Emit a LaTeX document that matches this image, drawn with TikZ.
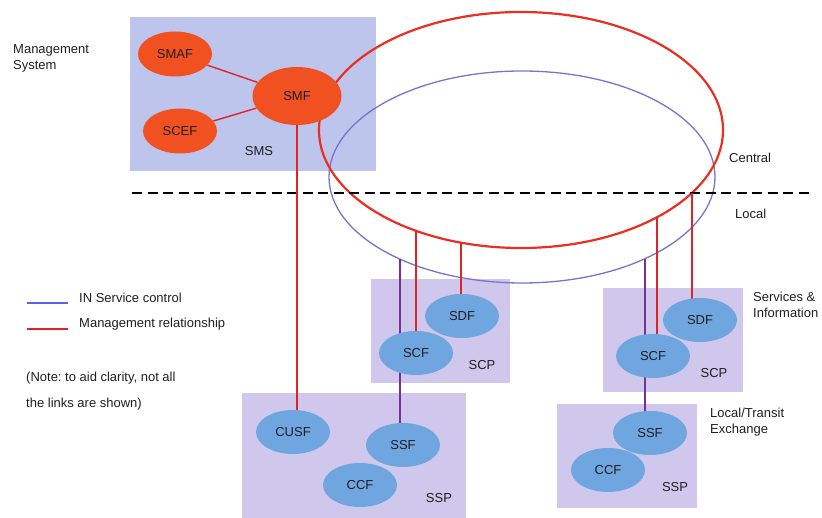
\documentclass[tikz,border=0pt]{standalone}
\usepackage{fontspec}
\setmainfont{Liberation Sans}
\usetikzlibrary{shapes.geometric,calc}
\pgfdeclarelayer{back}
\pgfdeclarelayer{mid}
\pgfsetlayers{back,mid,main}
\frenchspacing

\definecolor{smsfill}{RGB}{189,197,236}
\definecolor{boxfill}{RGB}{208,199,237}
\definecolor{mgmtfill}{RGB}{241,80,32}
\definecolor{infill}{RGB}{112,166,224}
\definecolor{mgmtline}{RGB}{222,36,36}
\definecolor{ringred}{RGB}{234,46,34}
\definecolor{ringblue}{RGB}{118,116,206}
\definecolor{ctrlline}{RGB}{118,48,150}
\definecolor{legblue}{RGB}{96,96,226}

\tikzset{
  every node/.style={font=\fontsize{13}{15}\selectfont, text=black!88},
  mgmtfn/.style={ellipse, fill=mgmtfill, minimum width=74, minimum height=45, inner sep=0},
  infn/.style={ellipse, fill=infill, minimum width=74, minimum height=44, inner sep=0},
  smsbox/.style={fill=smsfill, draw=none},
  platbox/.style={fill=boxfill, draw=none},
  mgmt/.style={draw=mgmtline, line width=1.4},
  ctrl/.style={draw=ctrlline, line width=1.4},
  ring/.style={ellipse, inner sep=0, outer sep=0},
  lbl/.style={anchor=west, inner sep=0},
}

\begin{document}
\begin{tikzpicture}[x=1pt, y=-1pt]
\useasboundingbox (0,0) rectangle (822,518);

% ---- platforms ----
\begin{pgfonlayer}{back}
  \fill[smsbox] (130,17) rectangle (376,171);
  \fill[platbox] (371,279) rectangle (510,383);
  \fill[platbox] (242,393) rectangle (466,518);
  \fill[platbox] (603,288) rectangle (743,392);
  \fill[platbox] (557,404) rectangle (697,508);
\end{pgfonlayer}

% ---- functional entities ----
\node[mgmtfn] (smaf) at (175,54) {SMAF};
\node[mgmtfn] (scef) at (180,131) {SCEF};
\node[mgmtfn, minimum width=89, minimum height=58] (smf) at (297,96) {SMF};

\node[infn] (sdfL) at (462,316) {SDF};
\node[infn] (scfL) at (416,353) {SCF};
\node[infn] (cusf) at (293,432) {CUSF};
\node[infn] (ssfL) at (403,445) {SSF};
\node[infn] (ccfL) at (360,485) {CCF};

\node[infn] (sdfR) at (700,320) {SDF};
\node[infn] (scfR) at (653,356) {SCF};
\node[infn] (ssfR) at (650,433) {SSF};
\node[infn] (ccfR) at (608,470) {CCF};

% ---- platform labels ----
\node (sms) at (259,151) {SMS};
\node (scpL) at (482,365) {SCP};
\node (sspL) at (439,498) {SSP};
\node (scpR) at (714,373) {SCP};
\node (sspR) at (675,487) {SSP};

% ---- side texts ----
\node[lbl] (msys1) at (13,50) {Management};
\node[lbl] (msys2) at (13,66) {System};
\node[lbl] (central) at (729,158) {Central};
\node[lbl] (local) at (735,214) {Local};
\node[lbl] (svc1) at (753,297) {Services \&};
\node[lbl] (svc2) at (753,313) {Information};
\node[lbl] (lte1) at (710,413) {Local/Transit};
\node[lbl] (lte2) at (710,430) {Exchange};

% ---- legend ----
\coordinate (lb1) at (27,303);
\coordinate (lb2) at (68,303);
\coordinate (lr1) at (27,329);
\coordinate (lr2) at (68,329);
\node[lbl] (legctrl) at (79,298) {IN Service control};
\node[lbl] (legmgmt) at (79,324) {Management relationship};
\node[lbl] (note1) at (26,378) {(Note: to aid clarity, not all};
\node[lbl] (note2) at (26,404) {the links are shown)};

\begin{pgfonlayer}{mid}
  % control and management rings
  \node[ring, draw=ringblue, line width=1.3, minimum width=386, minimum height=212] (bluering) at (522,177) {};
  \node[ring, draw=ringred, line width=2.2, minimum width=404, minimum height=236] (redring) at (521,130) {};

  % central / local boundary
  \coordinate (cl1) at (132,193);
  \coordinate (cl2) at (810,193);
  \draw[black, line width=2, dash pattern=on 10 off 5.5] (cl1) -- (cl2);

  % points where the links leave the rings
  \coordinate (rA) at ($(redring.center)+(-105,101)$);
  \coordinate (rB) at ($(redring.center)+(-60,113)$);
  \coordinate (rC) at ($(redring.center)+(136,87)$);
  \coordinate (rD) at ($(redring.center)+(171,63)$);
  \coordinate (bA) at ($(bluering.center)+(-122,82)$);
  \coordinate (bB) at ($(bluering.center)+(123,82)$);

  % management relationships
  \draw[mgmt] (smaf) -- (smf);
  \draw[mgmt] (scef) -- (smf);
  \draw[mgmt] (smf.center) -- (smf.center |- cusf.center);
  \draw[mgmt] (rA) -- (rA |- scfL.center);
  \draw[mgmt] (rB) -- (rB |- sdfL.center);
  \draw[mgmt] (rC) -- (rC |- scfR.center);
  \draw[mgmt] (rD) -- (rD |- sdfR.center);

  % IN service control
  \draw[ctrl] (bA) -- (bA |- ssfL.center);
  \draw[ctrl] (bB) -- (bB |- ssfR.center);

  % legend lines
  \draw[legblue, line width=1.8] (lb1) -- (lb2);
  \draw[mgmtline, line width=1.6] (lr1) -- (lr2);
\end{pgfonlayer}
\end{tikzpicture}
\end{document}
